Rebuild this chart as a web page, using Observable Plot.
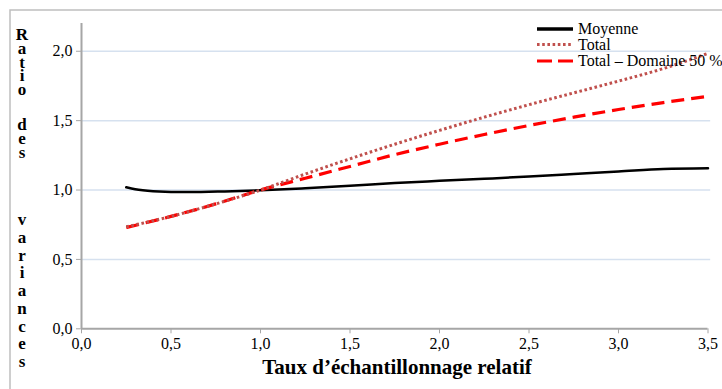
<!DOCTYPE html>
<html><head><meta charset="utf-8">
<script src="https://cdn.jsdelivr.net/npm/d3@7"></script>
<script src="https://cdn.jsdelivr.net/npm/@observablehq/plot@0.6"></script>
<style>
body{margin:0;background:#fff}
#chart{position:relative;width:722px;height:389px;overflow:hidden}
#chart svg, #chart svg text{font-family:"Liberation Serif","DejaVu Serif","Times New Roman",serif !important}
</style>
</head><body><div id="chart"></div>
<script>
// ---- data ----
const tauxMoyenne = [0.25, 0.3, 0.4, 0.6, 0.8, 1.0, 1.25, 1.5, 1.75, 2.0, 2.25, 2.5, 2.75, 3.0, 3.25, 3.5];
const moyenne     = [1.02, 1.005, 0.992, 0.985, 0.99, 0.998, 1.013, 1.03, 1.05, 1.066, 1.081, 1.097, 1.115, 1.133, 1.152, 1.157];
const taux        = [0.25, 0.5, 0.75, 1.0, 1.25, 1.5, 1.75, 2.0, 2.25, 2.5, 2.75, 3.0, 3.25, 3.5];
const total       = [0.735, 0.81, 0.9, 1.0, 1.115, 1.225, 1.33, 1.43, 1.525, 1.615, 1.70, 1.785, 1.875, 1.985];
const totalDom50  = [0.73, 0.81, 0.9, 1.0, 1.085, 1.17, 1.255, 1.33, 1.40, 1.465, 1.525, 1.58, 1.63, 1.675];
const seriesNames = ["Moyenne", "Total", "Total – Domaine 50 %"];
const xTicks = [0, 0.5, 1.0, 1.5, 2.0, 2.5, 3.0, 3.5];
const yTicks = [0, 0.5, 1.0, 1.5, 2.0];
const xTitle = "Taux d’échantillonnage relatif";
const yTitle = "Ratio des variances";

// ---- build ----
const moyData = tauxMoyenne.map((x, i) => ({x, y: moyenne[i]}));
const totData = taux.map((x, i) => ({x, y: total[i]}));
const domData = taux.map((x, i) => ({x, y: totalDom50[i]}));
const fmt = d => d3.format(".1f")(d).replace(".", ",");
const serif = "Liberation Serif, DejaVu Serif, Times New Roman, serif";
const axisGray = "#a6a6a6";
const styles = [
  {stroke: "#000000", strokeWidth: 2.5, dash: null},
  {stroke: "#c0504d", strokeWidth: 3, dash: "2.6,2.6"},
  {stroke: "#ff0000", strokeWidth: 3.2, dash: "13,7"}
];

const plot = Plot.plot({
  width: 722, height: 389,
  marginLeft: 81, marginRight: 14.5, marginTop: 23, marginBottom: 60.7,
  x: {domain: [0, 3.5]},
  y: {domain: [0, 2.2]},
  style: {fontFamily: serif, fontSize: "16px", background: "transparent", color: "#000"},
  marks: [
    Plot.ruleY(yTicks.filter(d => d > 0), {x1: 0, x2: 3.515, stroke: "#d6e1ef", strokeWidth: 1.5}),
    Plot.axisY(yTicks, {tickSize: 5, tickPadding: 4, tickFormat: fmt, stroke: axisGray, fill: "#000", label: null, fontSize: 16, fontFamily: serif}),
    Plot.axisX(xTicks, {tickSize: 5, tickPadding: 4, tickFormat: fmt, stroke: axisGray, fill: "#000", label: null, fontSize: 16, fontFamily: serif}),
    Plot.ruleX([0], {y1: 0, y2: 2.2, stroke: axisGray, strokeWidth: 2}),
    Plot.ruleY([0], {x1: 0, x2: 3.5, stroke: axisGray, strokeWidth: 2}),
    Plot.line(moyData, {x: "x", y: "y", curve: "monotone-x", stroke: styles[0].stroke, strokeWidth: styles[0].strokeWidth}),
    Plot.line(domData, {x: "x", y: "y", curve: "monotone-x", stroke: styles[2].stroke, strokeWidth: styles[2].strokeWidth, strokeDasharray: styles[2].dash, strokeLinecap: "butt"}),
    Plot.line(totData, {x: "x", y: "y", curve: "monotone-x", stroke: styles[1].stroke, strokeWidth: styles[1].strokeWidth, strokeDasharray: styles[1].dash, strokeLinecap: "butt"})
  ]
});
document.getElementById("chart").appendChild(plot);

const svg = d3.select(plot);
// outer frame (top and left edges visible)
svg.insert("path", ":first-child")
  .attr("d", "M10,400 L10,10 L730,10")
  .attr("fill", "none").attr("stroke", "#bfbfbf").attr("stroke-width", 1.5);

// x title
svg.append("text")
  .attr("x", 397).attr("y", 374)
  .attr("text-anchor", "middle")
  .attr("font-family", serif).attr("font-weight", "bold").attr("font-size", 21)
  .text(xTitle);

// y title: vertically stacked letters
const words = yTitle.split(" ");
const wordStarts = [40, 130, 225];
const wordSteps = [13.75, 14, 17.75];
const yt = svg.append("text")
  .attr("font-family", serif).attr("font-weight", "bold").attr("font-size", 17)
  .attr("text-anchor", "middle");
words.forEach((w, wi) => {
  [...w].forEach((ch, ci) => {
    yt.append("tspan").attr("x", 22).attr("y", wordStarts[wi] + ci * wordSteps[wi]).text(ch);
  });
});

// legend
const leg = svg.append("g").attr("text-anchor", "start");
const legRows = [29, 44.5, 61];
seriesNames.forEach((name, i) => {
  const s = styles[i];
  leg.append("line")
    .attr("x1", 537).attr("x2", 573).attr("y1", legRows[i]).attr("y2", legRows[i])
    .attr("stroke", s.stroke).attr("stroke-width", i === 0 ? 3.5 : 3.2)
    .attr("stroke-dasharray", i === 2 ? "15,6" : s.dash);
  leg.append("text")
    .attr("x", 578).attr("y", legRows[i] + 5)
    .attr("text-anchor", "start")
    .attr("font-family", serif).attr("font-size", 16)
    .text(name);
});
</script>
</body></html>
